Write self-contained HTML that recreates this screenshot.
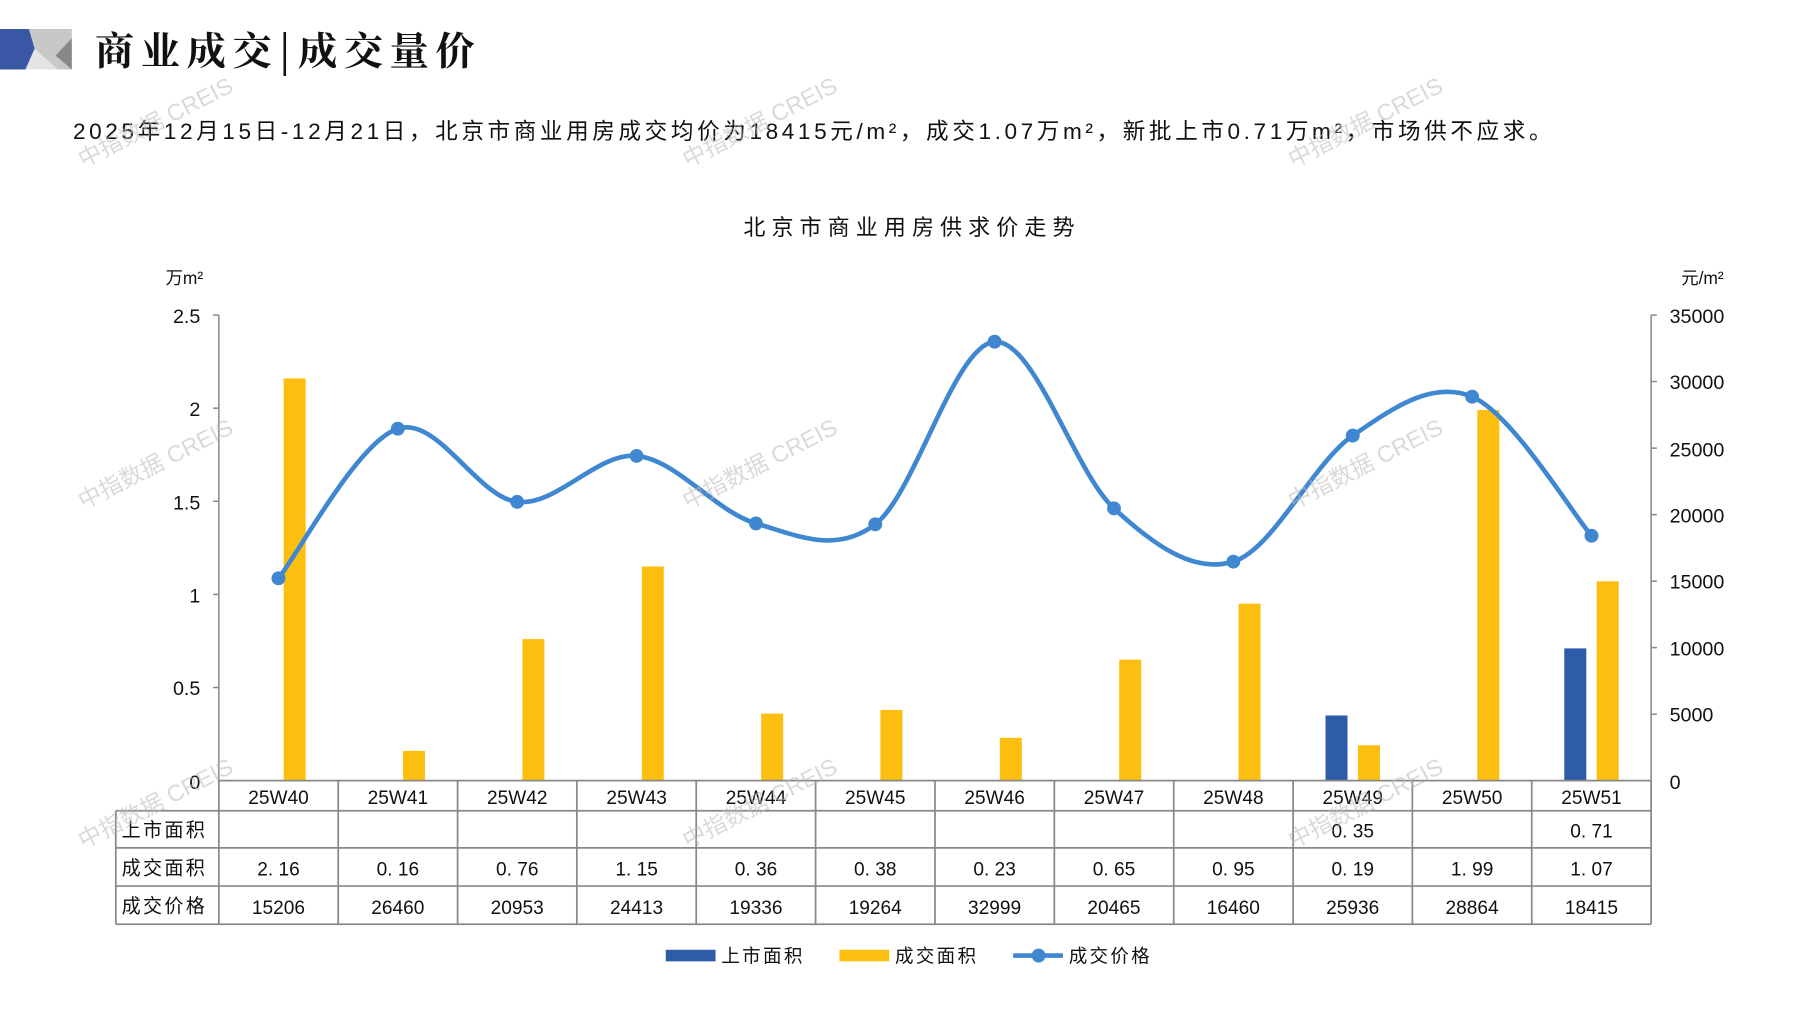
<!DOCTYPE html>
<html><head><meta charset="utf-8"><style>
html,body{margin:0;padding:0;background:#fff;}
svg{display:block;}
text{font-family:"Liberation Sans","Noto Sans CJK SC",sans-serif;fill:#111;}
.k{font-family:"Noto Serif CJK SC","Liberation Sans",serif;}
</style></head><body>
<svg width="1797" height="1010" viewBox="0 0 1552 872" preserveAspectRatio="none" xmlns="http://www.w3.org/2000/svg">
<polygon points="0,25 25,25 30,42 22,60 0,60" fill="#3a57a6"/>
<polygon points="22,60 30,42 25,25 62,25 62,60" fill="#c8c8c8"/>
<polygon points="62,33 48,48 62,60" fill="#888"/>
<polygon points="30,42 22,60 50,60" fill="#e4e4e4"/>
<text x="82" y="56" font-size="34" class="k" font-weight="bold" textLength="328" lengthAdjust="spacing">商业成交|成交量价</text>
<text x="63" y="120" font-size="19.5" textLength="1277" lengthAdjust="spacing">2025年12月15日-12月21日，北京市商业用房成交均价为18415元/m²，成交1.07万m²，新批上市0.71万m²，市场供不应求。</text>
<text x="642" y="203" font-size="19" textLength="286" lengthAdjust="spacing">北京市商业用房供求价走势</text>
<text x="143" y="245" font-size="15">万m²</text>
<text x="1452" y="245" font-size="15">元/m²</text>
<g stroke="#888" stroke-width="1.3" fill="none">
<line x1="189" y1="272" x2="189" y2="674"/>
<line x1="1426" y1="272" x2="1426" y2="674"/>
<line x1="184" y1="272" x2="189" y2="272"/><line x1="184" y1="352.4" x2="189" y2="352.4"/><line x1="184" y1="432.8" x2="189" y2="432.8"/><line x1="184" y1="513.2" x2="189" y2="513.2"/><line x1="184" y1="593.6" x2="189" y2="593.6"/>
<line x1="1426" y1="272" x2="1431" y2="272"/><line x1="1426" y1="329.4" x2="1431" y2="329.4"/><line x1="1426" y1="386.9" x2="1431" y2="386.9"/><line x1="1426" y1="444.3" x2="1431" y2="444.3"/><line x1="1426" y1="501.7" x2="1431" y2="501.7"/><line x1="1426" y1="559.1" x2="1431" y2="559.1"/><line x1="1426" y1="616.6" x2="1431" y2="616.6"/>
</g>
<g font-size="17" text-anchor="end">
<text x="173" y="279">2.5</text><text x="173" y="359">2</text><text x="173" y="440">1.5</text><text x="173" y="520">1</text><text x="173" y="600">0.5</text><text x="173" y="681">0</text>
</g>
<g font-size="17">
<text x="1442" y="279">35000</text><text x="1442" y="336">30000</text><text x="1442" y="394">25000</text><text x="1442" y="451">20000</text><text x="1442" y="508">15000</text><text x="1442" y="566">10000</text><text x="1442" y="623">5000</text><text x="1442" y="681">0</text>
</g>
<g fill="#fdbf0f">
<rect x="245" y="326.7" width="19" height="347.3"/>
<rect x="348.1" y="648.3" width="19" height="25.7"/>
<rect x="451.2" y="551.8" width="19" height="122.2"/>
<rect x="554.3" y="489.1" width="19" height="184.9"/>
<rect x="657.4" y="616.1" width="19" height="57.9"/>
<rect x="760.4" y="612.9" width="19" height="61.1"/>
<rect x="863.5" y="637" width="19" height="37"/>
<rect x="966.6" y="569.5" width="19" height="104.5"/>
<rect x="1069.7" y="521.2" width="19" height="152.8"/>
<rect x="1172.8" y="643.4" width="19" height="30.6"/>
<rect x="1275.9" y="354" width="19" height="320"/>
<rect x="1379" y="501.9" width="19" height="172.1"/>
</g>
<g fill="#2f5ca8">
<rect x="1144.8" y="617.7" width="19" height="56.3"/>
<rect x="1351" y="559.8" width="19" height="114.2"/>
</g>
<path d="M240.5,499.3 C257.7,477.8 309.2,381.1 343.6,370.1 C378.0,359.1 412.3,429.4 446.7,433.3 C481.1,437.2 515.4,390.5 549.8,393.6 C584.2,396.7 618.5,442.1 652.9,451.9 C687.3,461.8 721.5,478.9 755.9,452.7 C790.3,426.6 824.6,297.3 859.0,295.0 C893.4,292.7 927.7,407.3 962.1,438.9 C996.5,470.6 1030.8,495.4 1065.2,484.9 C1099.6,474.4 1133.9,399.8 1168.3,376.1 C1202.7,352.4 1237.0,328.1 1271.4,342.5 C1305.8,356.9 1357.3,442.5 1374.5,462.5" fill="none" stroke="#3f87d0" stroke-width="4"/>
<g fill="#3f87d0">
<circle cx="240.5" cy="499.3" r="6"/><circle cx="343.6" cy="370.1" r="6"/><circle cx="446.7" cy="433.3" r="6"/><circle cx="549.8" cy="393.6" r="6"/><circle cx="652.9" cy="451.9" r="6"/><circle cx="755.9" cy="452.7" r="6"/><circle cx="859" cy="295" r="6"/><circle cx="962.1" cy="438.9" r="6"/><circle cx="1065.2" cy="484.9" r="6"/><circle cx="1168.3" cy="376.1" r="6"/><circle cx="1271.4" cy="342.5" r="6"/><circle cx="1374.5" cy="462.5" r="6"/>
</g>
<g stroke="#888" stroke-width="1.5" fill="none">
<line x1="189" y1="674" x2="1426" y2="674"/>
<line x1="100" y1="700" x2="1426" y2="700"/>
<line x1="100" y1="732" x2="1426" y2="732"/>
<line x1="100" y1="765" x2="1426" y2="765"/>
<line x1="100" y1="798" x2="1426" y2="798"/>
<line x1="100" y1="700" x2="100" y2="798"/>
<line x1="189" y1="674" x2="189" y2="798"/><line x1="292.1" y1="674" x2="292.1" y2="798"/><line x1="395.2" y1="674" x2="395.2" y2="798"/><line x1="498.2" y1="674" x2="498.2" y2="798"/><line x1="601.3" y1="674" x2="601.3" y2="798"/><line x1="704.4" y1="674" x2="704.4" y2="798"/><line x1="807.5" y1="674" x2="807.5" y2="798"/><line x1="910.6" y1="674" x2="910.6" y2="798"/><line x1="1013.7" y1="674" x2="1013.7" y2="798"/><line x1="1116.8" y1="674" x2="1116.8" y2="798"/><line x1="1219.8" y1="674" x2="1219.8" y2="798"/><line x1="1322.9" y1="674" x2="1322.9" y2="798"/><line x1="1426" y1="674" x2="1426" y2="798"/>
</g>
<g font-size="16.5" letter-spacing="2">
<text x="105" y="722">上市面积</text><text x="105" y="755">成交面积</text><text x="105" y="788">成交价格</text>
</g>
<g font-size="16.5" text-anchor="middle">
<text x="240.5" y="694">25W40</text><text x="343.6" y="694">25W41</text><text x="446.7" y="694">25W42</text><text x="549.8" y="694">25W43</text><text x="652.9" y="694">25W44</text><text x="755.9" y="694">25W45</text><text x="859" y="694">25W46</text><text x="962.1" y="694">25W47</text><text x="1065.2" y="694">25W48</text><text x="1168.3" y="694">25W49</text><text x="1271.4" y="694">25W50</text><text x="1374.5" y="694">25W51</text>
<text x="1168.3" y="723">0. 35</text><text x="1374.5" y="723">0. 71</text>
<text x="240.5" y="756">2. 16</text><text x="343.6" y="756">0. 16</text><text x="446.7" y="756">0. 76</text><text x="549.8" y="756">1. 15</text><text x="652.9" y="756">0. 36</text><text x="755.9" y="756">0. 38</text><text x="859" y="756">0. 23</text><text x="962.1" y="756">0. 65</text><text x="1065.2" y="756">0. 95</text><text x="1168.3" y="756">0. 19</text><text x="1271.4" y="756">1. 99</text><text x="1374.5" y="756">1. 07</text>
<text x="240.5" y="789">15206</text><text x="343.6" y="789">26460</text><text x="446.7" y="789">20953</text><text x="549.8" y="789">24413</text><text x="652.9" y="789">19336</text><text x="755.9" y="789">19264</text><text x="859" y="789">32999</text><text x="962.1" y="789">20465</text><text x="1065.2" y="789">16460</text><text x="1168.3" y="789">25936</text><text x="1271.4" y="789">28864</text><text x="1374.5" y="789">18415</text>
</g>
<rect x="575" y="820" width="43" height="10" fill="#2f5ca8"/>
<text x="623" y="831" font-size="16" letter-spacing="2">上市面积</text>
<rect x="725" y="820" width="43" height="10" fill="#fdbf0f"/>
<text x="773" y="831" font-size="16" letter-spacing="2">成交面积</text>
<line x1="875" y1="825" x2="918" y2="825" stroke="#3f87d0" stroke-width="4"/>
<circle cx="897" cy="825" r="6" fill="#3f87d0"/>
<text x="923" y="831" font-size="16" letter-spacing="2">成交价格</text>
<g font-size="20" opacity="0.55">
<text transform="translate(72,145) rotate(-27)" style="fill:#bbb">中指数据 CREIS</text>
<text transform="translate(594,145) rotate(-27)" style="fill:#bbb">中指数据 CREIS</text>
<text transform="translate(1117,145) rotate(-27)" style="fill:#bbb">中指数据 CREIS</text>
<text transform="translate(72,440) rotate(-27)" style="fill:#bbb">中指数据 CREIS</text>
<text transform="translate(594,440) rotate(-27)" style="fill:#bbb">中指数据 CREIS</text>
<text transform="translate(1117,440) rotate(-27)" style="fill:#bbb">中指数据 CREIS</text>
<text transform="translate(72,733) rotate(-27)" style="fill:#bbb">中指数据 CREIS</text>
<text transform="translate(594,733) rotate(-27)" style="fill:#bbb">中指数据 CREIS</text>
<text transform="translate(1117,733) rotate(-27)" style="fill:#bbb">中指数据 CREIS</text>
</g>
</svg>
</body></html>
